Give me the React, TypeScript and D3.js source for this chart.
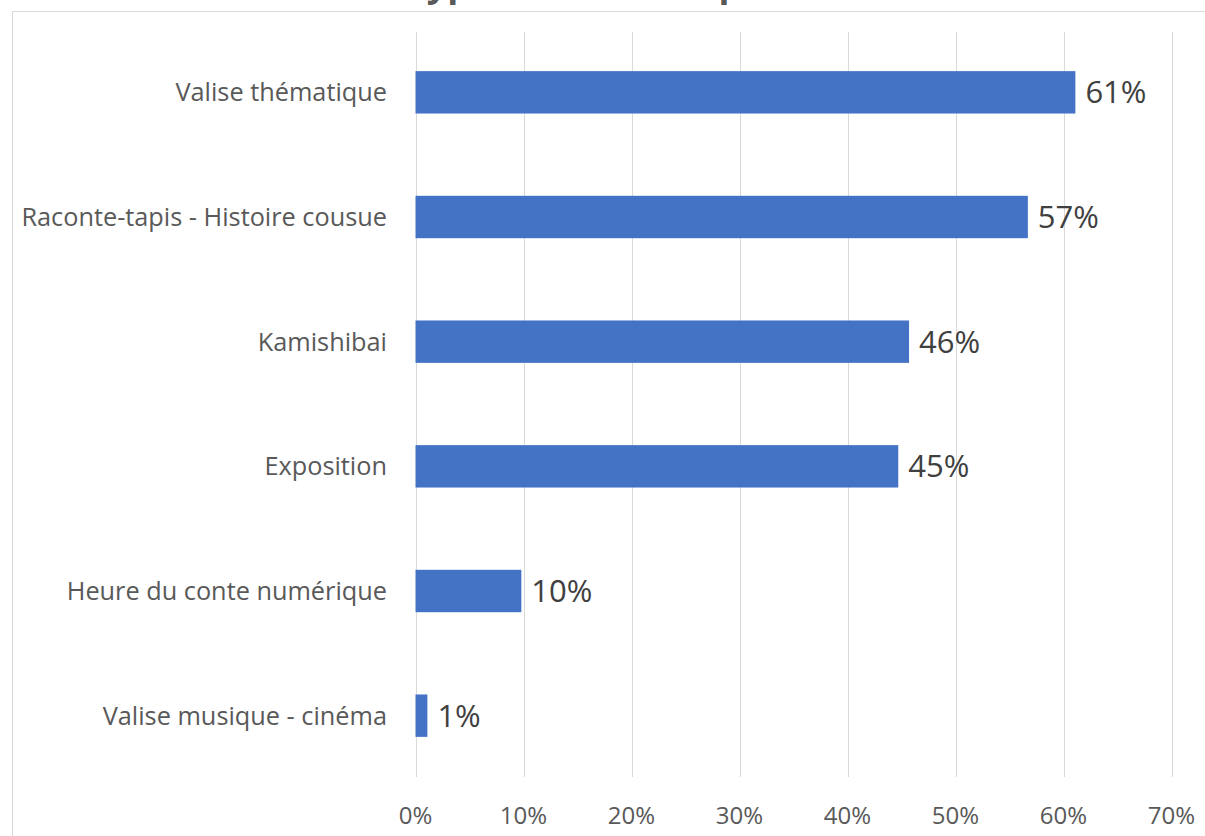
import React from "react";
import * as d3 from "d3";

const categories = [
  "Valise thématique",
  "Raconte-tapis - Histoire cousue",
  "Kamishibai",
  "Exposition",
  "Heure du conte numérique",
  "Valise musique - cinéma",
];
const values = [61.1, 56.7, 45.7, 44.7, 9.8, 1.1];
const valueLabels = ["61%", "57%", "46%", "45%", "10%", "1%"];
const tickValues = [0, 10, 20, 30, 40, 50, 60, 70];
const title = "Types d'outils empruntés";

const W = 1205;
const H = 836;
const FONT = "'Open Sans', 'Noto Sans', sans-serif";

export default function App() {
  const x = d3.scaleLinear().domain([0, 70]).range([415.5, 1171.5]);
  const y = d3
    .scaleBand<string>()
    .domain(categories)
    .range([30, 778])
    .paddingInner(0.66)
    .paddingOuter(0.33);
  const bw = y.bandwidth();

  return (
    <svg
      width={W}
      height={H}
      style={{ position: "absolute", left: 0, top: 0, background: "#fff" }}
      fontFamily={FONT}
    >
      <rect x={0} y={0} width={W} height={H} fill="#fff" />
      {/* chart border */}
      <rect x={12.5} y={11.5} width={W + 20} height={H + 20} fill="none" stroke="#D9D9D9" strokeWidth={1} />
      {/* title (cut off at top, as in the reference) */}
      <text x={406} y={-4} fontSize={36} fontWeight="bold" fill="#595959">
        {title}
      </text>
      {/* gridlines */}
      {tickValues.map((t) => (
        <line
          key={t}
          x1={Math.round(x(t)) + 0.5}
          x2={Math.round(x(t)) + 0.5}
          y1={32}
          y2={777}
          stroke="#D9D9D9"
          strokeWidth={1}
        />
      ))}
      {/* bars */}
      {categories.map((c, i) => (
        <rect
          key={c}
          x={x(0)}
          y={y(c)!}
          width={x(values[i]) - x(0)}
          height={bw}
          fill="#4472C4"
        />
      ))}
      {/* data labels */}
      {categories.map((c, i) => (
        <text
          key={c}
          x={x(values[i]) + 10}
          y={y(c)! + bw / 2}
          dy="0.35em"
          fontSize={31}
          fill="#404040"
        >
          {valueLabels[i]}
        </text>
      ))}
      {/* category labels */}
      {categories.map((c) => (
        <text
          key={c}
          x={387}
          y={y(c)! + bw / 2}
          dy="0.35em"
          textAnchor="end"
          fontSize={25.3}
          fill="#595959"
        >
          {c}
        </text>
      ))}
      {/* tick labels */}
      {tickValues.map((t) => (
        <text
          key={t}
          x={x(t)}
          y={816}
          dy="0.35em"
          textAnchor="middle"
          fontSize={24}
          fill="#595959"
        >
          {`${t}%`}
        </text>
      ))}
    </svg>
  );
}
